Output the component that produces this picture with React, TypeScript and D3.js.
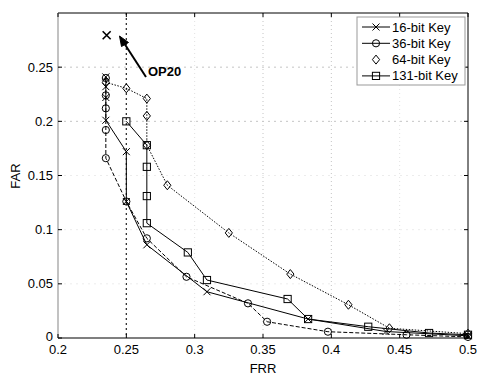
import React from "react";
import * as d3 from "d3";

const xTicks = [0.2, 0.25, 0.3, 0.35, 0.4, 0.45, 0.5];
const yTicks = [0, 0.05, 0.1, 0.15, 0.2, 0.25];
const xTickLabels = ["0.2", "0.25", "0.3", "0.35", "0.4", "0.45", "0.5"];
const yTickLabels = ["0", "0.05", "0.1", "0.15", "0.2", "0.25"];

const frr16 = [0.235, 0.235, 0.235, 0.235, 0.25, 0.25, 0.265, 0.309, 0.383, 0.44, 0.5];
const far16 = [0.241, 0.232, 0.222, 0.201, 0.172, 0.126, 0.086, 0.0427, 0.0175, 0.006, 0.002];

const frr36 = [0.235, 0.235, 0.235, 0.235, 0.235, 0.25, 0.265, 0.294, 0.339, 0.353, 0.3975, 0.455, 0.5];
const far36 = [0.24, 0.224, 0.212, 0.192, 0.166, 0.126, 0.092, 0.0565, 0.032, 0.015, 0.0058, 0.003, 0.001];

const frr64 = [0.235, 0.25, 0.265, 0.265, 0.265, 0.28, 0.325, 0.37, 0.4125, 0.4425, 0.5];
const far64 = [0.236, 0.2305, 0.221, 0.205, 0.178, 0.141, 0.097, 0.059, 0.0307, 0.009, 0.004];

const frr131 = [0.25, 0.265, 0.265, 0.265, 0.265, 0.295, 0.309, 0.368, 0.383, 0.427, 0.4715, 0.5];
const far131 = [0.2, 0.178, 0.158, 0.131, 0.106, 0.079, 0.0535, 0.036, 0.0175, 0.0104, 0.0046, 0.003];

const op20Frr = [0.2356];
const op20Far = [0.2795];

const seriesNames = ["16-bit Key", "36-bit Key", "64-bit Key", "131-bit Key"];

const W = 478, H = 375;
const L = 58, R = 468, T = 13, B = 338;
const FONT = "Liberation Sans, Arial, sans-serif";

function Marker({ kind, x, y }: { kind: string; x: number; y: number }) {
  const s = { fill: "none", stroke: "#000", strokeWidth: 1 } as any;
  if (kind === "x") {
    const h = 3.5;
    return <path d={`M${x - h},${y - h}L${x + h},${y + h}M${x - h},${y + h}L${x + h},${y - h}`} {...s} />;
  }
  if (kind === "o") return <circle cx={x} cy={y} r={3.6} {...s} />;
  if (kind === "d") {
    const h = 4.5;
    return <path d={`M${x},${y - h}L${x + h * 0.8},${y}L${x},${y + h}L${x - h * 0.8},${y}Z`} {...s} />;
  }
  const h = 3.6;
  return <rect x={x - h} y={y - h} width={2 * h} height={2 * h} {...s} />;
}

export default function App() {
  const x = d3.scaleLinear().domain([0.2, 0.5]).range([L, R]);
  const y = d3.scaleLinear().domain([0, 0.3]).range([B, T]);
  const line = d3.line<[number, number]>().x((d) => x(d[0])).y((d) => y(d[1]));

  const series = [
    { name: seriesNames[0], xs: frr16, ys: far16, m: "x", dash: "none", w: 1 },
    { name: seriesNames[1], xs: frr36, ys: far36, m: "o", dash: "4,2", w: 1 },
    { name: seriesNames[2], xs: frr64, ys: far64, m: "d", dash: "1.5,1.5", w: 1 },
    { name: seriesNames[3], xs: frr131, ys: far131, m: "s", dash: "none", w: 1 },
  ];

  const vGridColor = (t: number) => (t === 0.25 ? "#333" : t === 0.35 || t === 0.4 ? "#c4c4c4" : "#e2e2e2");
  const hGridColor = (t: number) => (t >= 0.2 ? "#c4c4c4" : "#ececec");

  return (
    <div style={{ position: "absolute", left: 0, top: 0 }}>
      <svg width={W} height={H} style={{ display: "block", background: "#fff" }} fontFamily={FONT}>
        <rect x={0} y={0} width={W} height={H} fill="#fff" />
        {/* grid */}
        {xTicks.slice(1, -1).map((t) => (
          <line key={"gx" + t} x1={x(t)} x2={x(t)} y1={T} y2={B}
            stroke={vGridColor(t)} strokeWidth={t === 0.25 ? 1.3 : 1}
            strokeDasharray={t === 0.25 ? "2,3" : "1,3"} />
        ))}
        {yTicks.slice(1).map((t) => (
          <line key={"gy" + t} x1={L} x2={R} y1={y(t)} y2={y(t)} stroke={hGridColor(t)} strokeDasharray="2,4" />
        ))}
        {/* frame */}
        <line x1={L} x2={R} y1={T} y2={T} stroke="#000" />
        <line x1={R} x2={R} y1={T} y2={B} stroke="#000" />
        <line x1={L} x2={R} y1={B} y2={B} stroke="#000" strokeWidth={1.2} />
        <line x1={L} x2={L} y1={T} y2={B} stroke="#999" strokeWidth={1.2} />
        {/* ticks */}
        {xTicks.map((t) => (
          <g key={"tx" + t}>
            <line x1={x(t)} x2={x(t)} y1={B} y2={B - 4} stroke="#000" />
            <line x1={x(t)} x2={x(t)} y1={T} y2={T + 4} stroke="#000" />
          </g>
        ))}
        {yTicks.map((t) => (
          <g key={"ty" + t}>
            <line x1={L} x2={L + 4} y1={y(t)} y2={y(t)} stroke="#000" />
            <line x1={R} x2={R - 4} y1={y(t)} y2={y(t)} stroke="#000" />
          </g>
        ))}
        {xTicks.map((t, i) => (
          <text key={"lx" + t} x={x(t)} y={B + 16} fontSize={13} textAnchor="middle" fill="#000">{xTickLabels[i]}</text>
        ))}
        {yTicks.map((t, i) => (
          <text key={"ly" + t} x={L - 5} y={y(t) + (t === 0 ? 2.5 : 4.5)} fontSize={13} textAnchor="end" fill="#000">{yTickLabels[i]}</text>
        ))}
        <text x={(L + R) / 2} y={373} fontSize={13} textAnchor="middle">FRR</text>
        <text transform={`translate(20,176) rotate(-90)`} fontSize={13} textAnchor="middle">FAR</text>

        {/* series */}
        {series.map((s) => (
          <g key={s.name}>
            <path d={line(s.xs.map((v, i) => [v, s.ys[i]] as [number, number])) || ""}
              fill="none" stroke="#000" strokeWidth={s.w} strokeDasharray={s.dash} />
            {s.xs.map((v, i) => (
              <Marker key={i} kind={s.m} x={x(v)} y={y(s.ys[i])} />
            ))}
          </g>
        ))}
        {op20Frr.map((v, i) => (
          <path key={"op" + i}
            d={`M${x(v) - 4},${y(op20Far[i]) - 4}L${x(v) + 4},${y(op20Far[i]) + 4}M${x(v) - 4},${y(op20Far[i]) + 4}L${x(v) + 4},${y(op20Far[i]) - 4}`}
            stroke="#000" strokeWidth={1.6} fill="none" />
        ))}
        {/* annotation */}
        <line x1={146} y1={77} x2={124} y2={43} stroke="#000" strokeWidth={2} />
        <path d="M119.5,36 L128.5,42.5 L121.5,46.5 Z" fill="#000" stroke="#000" strokeWidth={1} />
        <text x={148} y={76} fontSize={13} fontWeight="bold">OP20</text>

        {/* legend */}
        <rect x={357} y={17} width={108} height={68} fill="#fff" stroke="#999" />
        {series.map((s, i) => {
          const ly = 27 + i * 16.3;
          return (
            <g key={"lg" + s.name}>
              {s.m !== "d" && <line x1={362} x2={390} y1={ly} y2={ly} stroke="#000" />}
              <Marker kind={s.m} x={376} y={ly} />
              <text x={392} y={ly + 4.5} fontSize={13}>{s.name}</text>
            </g>
          );
        })}
      </svg>
    </div>
  );
}
